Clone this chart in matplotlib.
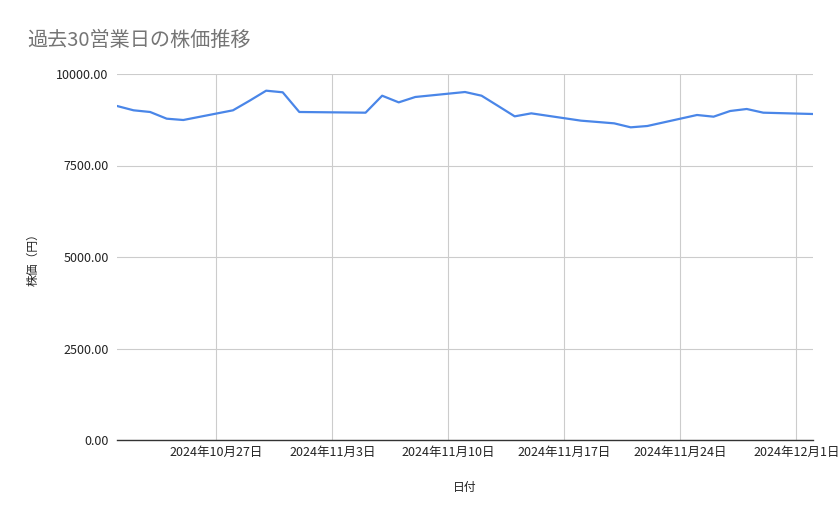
import numpy as np
import pandas as pd
import matplotlib
matplotlib.use("Agg")
import matplotlib.pyplot as plt
import matplotlib.dates as mdates

plt.rcParams['font.family'] = ['Noto Sans CJK JP', 'DejaVu Sans']

# 過去30営業日の株価 (11/4 は祝日)
dates = ["2024-10-21", "2024-10-22", "2024-10-23", "2024-10-24", "2024-10-25",
         "2024-10-28", "2024-10-29", "2024-10-30", "2024-10-31", "2024-11-01",
         "2024-11-05", "2024-11-06", "2024-11-07", "2024-11-08",
         "2024-11-11", "2024-11-12", "2024-11-13", "2024-11-14", "2024-11-15",
         "2024-11-18", "2024-11-19", "2024-11-20", "2024-11-21", "2024-11-22",
         "2024-11-25", "2024-11-26", "2024-11-27", "2024-11-28", "2024-11-29",
         "2024-12-02"]
prices = [9126, 9008, 8962, 8779, 8743,
          9008, 9270, 9544, 9500, 8962,
          8943, 9407, 9225, 9372,
          9508, 9407, 9126, 8843, 8925,
          8725, 8689, 8652, 8543, 8579,
          8880, 8834, 8989, 9044, 8943,
          8907]
yticks = [0, 2500, 5000, 7500, 10000]
xtick_dates = ["2024-10-27", "2024-11-03", "2024-11-10", "2024-11-17",
               "2024-11-24", "2024-12-01"]

x = pd.to_datetime(dates)
xt = pd.to_datetime(xtick_dates)

fig = plt.figure(figsize=(8.39, 5.19), dpi=100)
ax = fig.add_axes([117 / 839, 1 - 440 / 519, 696 / 839, 366 / 519])

ax.plot(x, prices, color='#4a86e8', linewidth=1.6)

ax.set_xlim(pd.Timestamp("2024-10-21"), pd.Timestamp("2024-12-02"))
ax.set_ylim(0, 10000)
ax.set_yticks(yticks)
ax.set_yticklabels(["%.2f" % v for v in yticks])
ax.set_xticks(xt)
ax.set_xticklabels([f"{d.year}年{d.month}月{d.day}日" for d in xt])

ax.grid(True, color='#cccccc', linewidth=0.8)
ax.set_axisbelow(True)
for s in ['top', 'right', 'left']:
    ax.spines[s].set_visible(False)
ax.spines['bottom'].set_color('#333333')
ax.spines['bottom'].set_linewidth(1.0)
ax.tick_params(length=0, labelsize=9, colors='#222222', pad=4)
ax.tick_params(axis='y', pad=6)

ax.set_xlabel("日付", fontsize=8.5, color='#222222', labelpad=16)
ax.set_ylabel("株価（円）", fontsize=8.5, color='#222222', labelpad=12)

fig.text(27 / 839, 1 - 40 / 519, "過去30営業日の株価推移", fontsize=14.5,
         color='#757575', va='center', ha='left')

fig.savefig("out.png", dpi=100)
